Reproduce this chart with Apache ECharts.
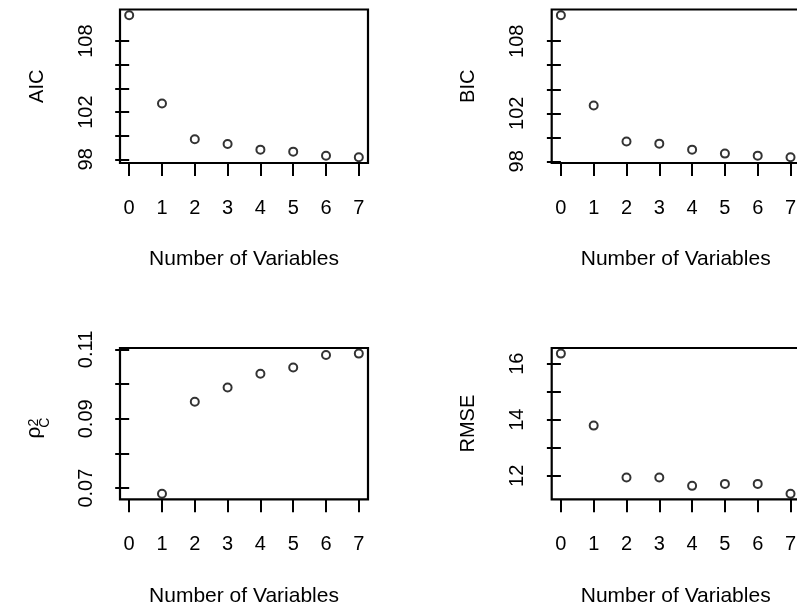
<!DOCTYPE html>
<html><head><meta charset="utf-8">
<script src="https://cdn.jsdelivr.net/npm/echarts@6/dist/echarts.min.js"></script>
<style>html,body{margin:0;padding:0;background:#fff}#c{width:797px;height:606px}</style>
</head><body><div id="c"></div>
<script>
// ---- data ----
const nVars = [0, 1, 2, 3, 4, 5, 6, 7];
const aicValues = [110.20, 102.73, 99.70, 99.30, 98.82, 98.65, 98.31, 98.17];
const bicValues = [110.17, 102.65, 99.64, 99.47, 98.97, 98.64, 98.47, 98.33];
const rho2cValues = [null, 0.0684, 0.0949, 0.0990, 0.1030, 0.1048, 0.1084, 0.1088];
const rmseValues = [16.36, 13.79, 11.94, 11.94, 11.64, 11.71, 11.71, 11.36];

const xTicks = [0, 1, 2, 3, 4, 5, 6, 7];
const aicTicks = [98, 100, 102, 104, 106, 108];
const aicLabels = [98, 102, 108];
const bicTicks = [98, 100, 102, 104, 106, 108];
const bicLabels = [98, 102, 108];
const rhoTicks = [0.07, 0.08, 0.09, 0.10, 0.11];
const rhoLabels = [0.07, 0.09, 0.11];
const rmseTicks = [12, 13, 14, 15, 16];
const rmseLabels = [12, 14, 16];

const xTitle = 'Number of Variables';

// ---- helpers ----
const FONT = "'Liberation Sans', Arial, sans-serif";
function padRange(arr) {
  const v = arr.filter(d => d !== null);
  const lo = Math.min(...v), hi = Math.max(...v), r = hi - lo;
  return [lo - 0.04 * r, hi + 0.04 * r];
}
const xRange = padRange(nVars);

const grids = [
  { left: 120, top: 9.5, width: 248, height: 153.5 },
  { left: 551.7, top: 9.5, width: 248, height: 153.5 },
  { left: 120, top: 348, width: 248, height: 151.3 },
  { left: 551.7, top: 348, width: 248, height: 151.3 }
];

const panels = [
  { vals: aicValues, ticks: aicTicks, labels: aicLabels, name: 'AIC' },
  { vals: bicValues, ticks: bicTicks, labels: bicLabels, name: 'BIC' },
  { vals: rho2cValues, ticks: rhoTicks, labels: rhoLabels, name: '{rho|ρ}{sup|2}\n{gap|}{sub|C}' },
  { vals: rmseValues, ticks: rmseTicks, labels: rmseLabels, name: 'RMSE' }
];
const nameGaps = [73, 73, 66, 73];

const tickStyle = { color: '#000', width: 2 };

const option = {
  backgroundColor: '#fff',
  animation: false,
  grid: grids.map(g => Object.assign({
    show: true, borderColor: '#000', borderWidth: 2.2, backgroundColor: 'transparent',
    containLabel: false, outerBoundsMode: 'none'
  }, g)),
  xAxis: grids.map((g, i) => ({
    type: 'value', gridIndex: i, min: xRange[0], max: xRange[1],
    axisLine: { show: false },
    splitLine: { show: false },
    axisTick: { show: true, length: 13, inside: false, customValues: xTicks, lineStyle: tickStyle },
    axisLabel: { show: true, customValues: xTicks, margin: 35, color: '#000', fontSize: 20, fontFamily: FONT },
    name: xTitle, nameLocation: 'middle', nameGap: 86,
    nameTextStyle: { color: '#000', fontSize: 21, fontFamily: FONT }
  })),
  yAxis: panels.map((p, i) => {
    const r = padRange(p.vals);
    return {
      type: 'value', gridIndex: i, min: r[0], max: r[1],
      axisLine: { show: false },
      splitLine: { show: false },
      axisTick: { show: true, length: 14, inside: false, customValues: p.ticks, lineStyle: tickStyle },
      axisLabel: { show: true, customValues: p.labels, rotate: 90, margin: 24, color: '#000', fontSize: 20, fontFamily: FONT,
        formatter: v => String(v) },
      name: p.name, nameLocation: 'middle', nameGap: nameGaps[i], nameRotate: 90,
      nameTextStyle: {
        color: '#000', fontSize: 20, fontFamily: FONT,
        rich: {
          rho: { fontSize: 21, lineHeight: 4, fontFamily: FONT, color: '#000' },
          sup: { fontSize: 14, lineHeight: 4, fontFamily: FONT, color: '#000', padding: [0, 10, 0, 0] },
          gap: { width: 12, fontSize: 14, lineHeight: 18, fontFamily: FONT, color: '#000' },
          sub: { fontSize: 14, lineHeight: 18, fontFamily: FONT, color: '#000', padding: [0, 10, 0, 0] }
        }
      }
    };
  }),
  series: panels.map((p, i) => ({
    type: 'scatter', xAxisIndex: i, yAxisIndex: i,
    symbol: 'circle', symbolSize: 8,
    itemStyle: { color: '#fff', borderColor: '#000', borderWidth: 2 },
    emphasis: { disabled: true },
    clip: false,
    data: nVars.map((x, k) => [x, p.vals[k]]).filter(d => d[1] !== null)
  }))
};

const chart = echarts.init(document.getElementById('c'), null, { renderer: 'canvas' });
chart.setOption(option);
</script>
</body></html>
